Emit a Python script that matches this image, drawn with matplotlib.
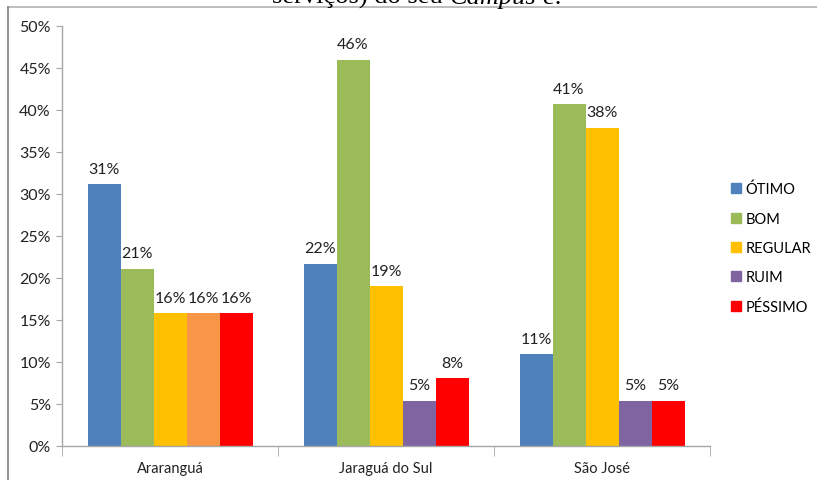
import matplotlib
matplotlib.use("Agg")
import matplotlib.pyplot as plt
from matplotlib.lines import Line2D
import numpy as np

plt.rcParams["font.family"] = ["Lato", "DejaVu Sans"]

campi = ["Araranguá", "Jaraguá do Sul", "São José"]
levels = ["ÓTIMO", "BOM", "REGULAR", "RUIM", "PÉSSIMO"]

otimo = [0.312, 0.217, 0.109]
bom = [0.211, 0.460, 0.407]
regular = [0.158, 0.190, 0.379]
ruim = [0.158, 0.054, 0.054]
pessimo = [0.158, 0.081, 0.054]

series = [otimo, bom, regular, ruim, pessimo]
colors = ["#4F81BD", "#9BBB59", "#FFC000", "#8064A2", "#FF0000"]
# Araranguá's RUIM bar is drawn in orange
bar_colors = [
    [colors[0]] * 3,
    [colors[1]] * 3,
    [colors[2]] * 3,
    ["#F79646", colors[3], colors[3]],
    [colors[4]] * 3,
]

W, H = 817, 481
fig = plt.figure(figsize=(W / 100, H / 100), dpi=100)
ax = fig.add_axes([62 / W, 1 - 447 / H, (710 - 62) / W, (447 - 27) / H])

x = np.arange(len(campi))
width = 33 / 216
for j, vals in enumerate(series):
    pos = x + (j - 2) * width
    ax.bar(pos, vals, width, color=bar_colors[j], linewidth=0)
    for px, v in zip(pos, vals):
        ax.annotate(f"{v * 100:.0f}%", (px, v), xytext=(0, 6), textcoords="offset points",
                    ha="center", va="bottom", fontsize=11.5, color="#222222")

ax.set_xlim(-0.5, 2.5)
ax.set_ylim(0, 0.5)
ticks = np.arange(0, 0.51, 0.05)
ax.set_yticks(ticks)
ax.set_yticklabels([f"{int(round(t * 100))}%" for t in ticks])
ax.tick_params(axis="y", length=4, color="#a6a6a6", labelsize=11.5, pad=4, labelcolor="#222222")

ax.set_xticks(x)
ax.set_xticklabels(campi)
ax.tick_params(axis="x", which="major", length=0, labelsize=10.5, pad=11, labelcolor="#222222")
ax.set_xticks([-0.5, 0.5, 1.5, 2.5], minor=True)
ax.tick_params(axis="x", which="minor", length=7, color="#a6a6a6", direction="out")

for side in ["top", "right"]:
    ax.spines[side].set_visible(False)
for side in ["left", "bottom"]:
    ax.spines[side].set_color("#a6a6a6")
    ax.spines[side].set_linewidth(1)

handles = [Line2D([], [], marker="s", linestyle="", markersize=7, color=c) for c in colors]
fig.legend(handles, levels, loc="upper left", bbox_to_anchor=(724 / W, 1 - 177 / H),
           frameon=False, fontsize=10.5, handlelength=0.8, handletextpad=0.3,
           labelspacing=1.05, borderaxespad=0)

# chart frame edges and the caption line running above it
fig.add_artist(Line2D([8 / W, 1], [1 - 8 / H, 1 - 8 / H], color="#b3b3b3", lw=1.2))
fig.add_artist(Line2D([8 / W, 8 / W], [0, 1 - 8 / H], color="#7f7f7f", lw=1.2))

renderer = fig.canvas.get_renderer()
xpos = 272
for piece, style in [("serviços) do seu ", "normal"), ("Campus", "italic"), (" é:", "normal")]:
    t = fig.text(xpos / W, 1 - 4 / H, piece, fontsize=19, family="Liberation Serif",
                 style=style, va="baseline", ha="left")
    xpos = t.get_window_extent(renderer).x1

fig.savefig("out.png", dpi=100)
